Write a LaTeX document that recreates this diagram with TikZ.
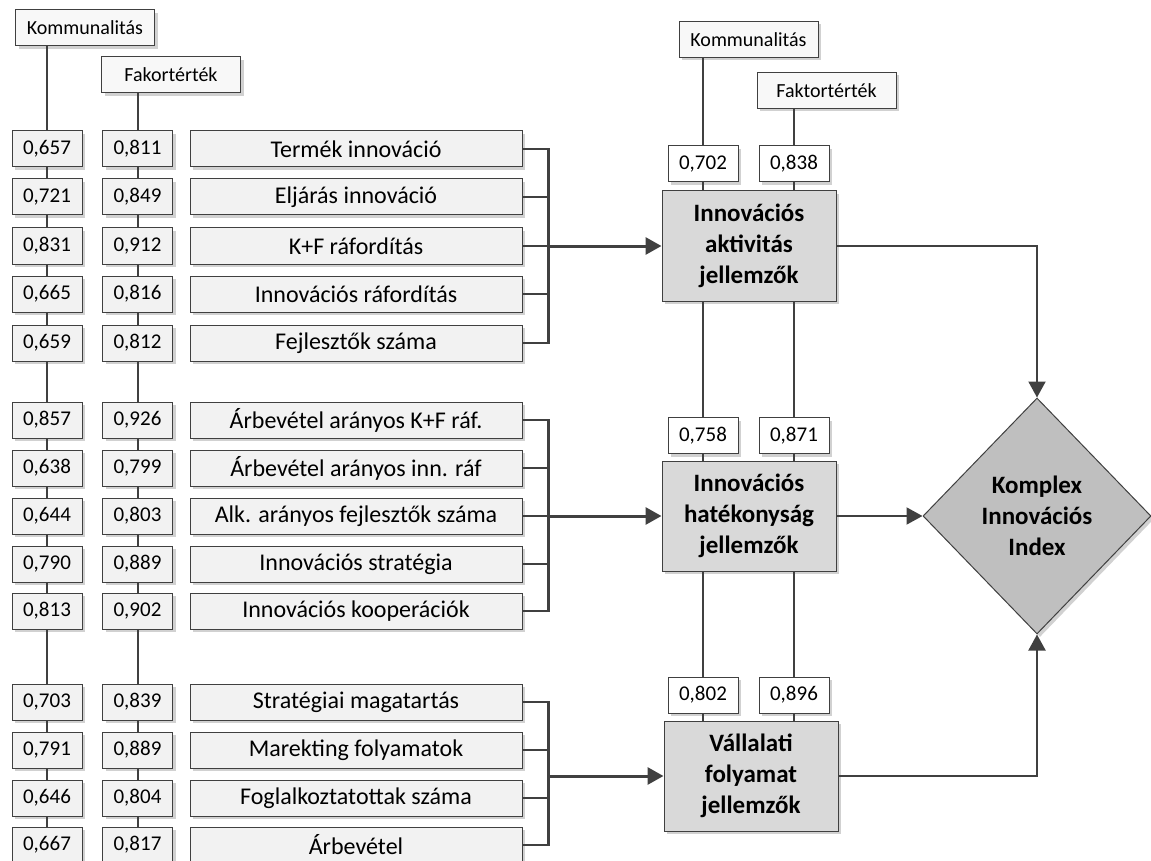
\documentclass[tikz,border=0pt]{standalone}
\usepackage{fontspec}
\setmainfont{Carlito}
\usetikzlibrary{arrows.meta,shapes.geometric,shadows}
\definecolor{linegray}{HTML}{404040}
\definecolor{boxgray}{HTML}{F2F2F2}
\definecolor{maingray}{HTML}{D9D9D9}
\definecolor{diagray}{HTML}{BFBFBF}
\tikzset{
  shade box/.style={drop shadow={shadow xshift=3pt, shadow yshift=-3pt, fill=black, opacity=.18}},
  headbox/.style={draw=linegray, fill=boxgray!50, line width=1pt, minimum width=139pt,
    minimum height=36pt, inner sep=0pt, font=\fontsize{20}{24}\selectfont, shade box},
  valbox/.style={draw=linegray, fill=boxgray, line width=1pt, minimum width=70pt,
    minimum height=36pt, inner sep=0pt, font=\fontsize{21}{25}\selectfont, shade box},
  rvalbox/.style={valbox, fill=white},
  labbox/.style={draw=linegray, fill=boxgray, line width=1pt, minimum width=332pt,
    minimum height=36pt, inner sep=0pt, font=\fontsize{24}{28}\selectfont, shade box},
  bigbox/.style={draw=linegray, fill=maingray, line width=1pt, minimum width=174pt,
    minimum height=110pt, inner sep=0pt, align=center,
    font=\bfseries\fontsize{25}{31}\selectfont, shade box},
  idxbox/.style={diamond, draw=linegray, fill=diagray, line width=1pt, minimum width=228pt,
    minimum height=236pt, inner sep=0pt, align=center,
    font=\bfseries\fontsize{25}{31}\selectfont, shade box},
  colline/.style={draw=linegray, line width=2pt},
  brline/.style={draw=linegray, line width=2.4pt},
  inarrow/.style={draw=linegray, line width=3pt, -{Triangle[length=16pt, width=17pt]}},
  outarrow/.style={draw=linegray, line width=2pt, -{Triangle[length=16pt, width=17pt]}}
}
\begin{document}
\begin{tikzpicture}[x=1pt, y=-1pt]
  \useasboundingbox (0, 0) rectangle (1151, 861);
  \node at(85, 28) [headbox](lkom){Kommunalitás};
  \node at(171, 75) [headbox](lfak){Fakortérték};
  \foreach \y/\k/\f/\t [count=\i] in {
    149/{0,657}/{0,811}/{Termék innováció},
    197/{0,721}/{0,849}/{Eljárás innováció},
    246/{0,831}/{0,912}/{K+F ráfordítás},
    294/{0,665}/{0,816}/{Innovációs ráfordítás},
    343/{0,659}/{0,812}/{Fejlesztők száma},
    420/{0,857}/{0,926}/{Árbevétel arányos K+F ráf.},
    468/{0,638}/{0,799}/{Árbevétel arányos inn. ráf},
    516/{0,644}/{0,803}/{Alk. arányos fejlesztők száma},
    564/{0,790}/{0,889}/{Innovációs stratégia},
    611/{0,813}/{0,902}/{Innovációs kooperációk},
    702/{0,703}/{0,839}/{Stratégiai magatartás},
    750/{0,791}/{0,889}/{Marekting folyamatok},
    798/{0,646}/{0,804}/{Foglalkoztatottak száma},
    845/{0,667}/{0,817}/{Árbevétel}} {
    \node at(47, \y) [valbox](k\i){\k};
    \node at(137.5, \y) [valbox](f\i){\f};
    \node at(356, \y) [labbox](l\i){\t};
  }
  \draw[colline] (lkom.south -| k1) -- (k1.north);
  \draw[colline] (lfak.south -| f1) -- (f1.north);
  \foreach \i [evaluate=\i as \j using int(\i+1)] in {1, ..., 13} {
    \draw[colline] (k\i) -- (k\j);
    \draw[colline] (f\i) -- (f\j);
  }

  \node at(749, 246) [bigbox](b1){Innovációs\\aktivitás\\jellemzők};
  \node at(749, 516) [bigbox](b2){Innovációs\\hatékonyság\\jellemzők};
  \node at(751, 776) [bigbox](b3){Vállalati\\folyamat\\jellemzők};
  \node at(1037, 516) [idxbox](idx){Komplex\\Innovációs\\Index};
  \node at(748.5, 39.5) [headbox](rkom){Kommunalitás};
  \node at(826.5, 90.5) [headbox](rfak){Faktortérték};
  \foreach \y/\a/\b [count=\i] in {164/{0,702}/{0,838}, 435.5/{0,758}/{0,871},
    695/{0,802}/{0,896}} {
    \node at(703, \y) [rvalbox](ka\i){\a};
    \node at(794, \y) [rvalbox](fa\i){\b};
  }
  \draw[colline] (rkom.south -| ka1) -- (ka1.north);
  \draw[colline] (rfak.south -| fa1) -- (fa1.north);
  \foreach \c in {ka, fa} {
    \draw[colline] (\c1) -- (b1.north -| \c1);
    \draw[colline] (b1.south -| \c1) -- (\c2);
    \draw[colline] (\c2) -- (b2.north -| \c2);
    \draw[colline] (b2.south -| \c2) -- (\c3);
    \draw[colline] (\c3) -- (b3.north -| \c3);
  }

  \foreach \a/\b/\m in {1/5/3, 6/10/8} {
    \draw[brline] (l\a.east) -- ++(26, 0) |- (l\b.east);
    \foreach \r in {\a, ..., \b}
    \draw[brline] (l\r.east) -- ++(26, 0);
  }
  \draw[brline] (l11.east) -- ++(26, 0) |- (l14.east);
  \foreach \r in {12, 13}
  \draw[brline] (l\r.east) -- ++(26, 0);
  \coordinate (g1) at (548, 246);
  \coordinate (g2) at (548, 516);
  \coordinate (g3) at (548, 776);
  \draw[inarrow] (g1) -- (b1.west);
  \draw[inarrow] (g2) -- (b2.west);
  \draw[inarrow] (g3) -- (b3.west);

  \draw[outarrow] (b1) -| (idx);
  \draw[outarrow] (b2) -- (idx);
  \draw[outarrow] (b3) -| (idx);
\end{tikzpicture}
\end{document}
